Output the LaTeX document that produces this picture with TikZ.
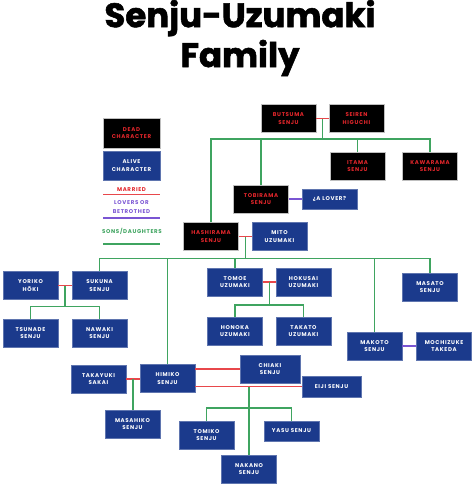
\documentclass[tikz,border=0pt]{standalone}
\usepackage{fontspec}
\setmainfont{Poppins}
\newfontfamily\titlefont{Poppins}[BoldFeatures={FakeBold=1.6}]
\newfontfamily\boxfont[LetterSpace=12]{Poppins}
\usetikzlibrary{calc}

\definecolor{navy}{HTML}{1B3A8C}
\definecolor{deadred}{HTML}{E3262B}
\definecolor{marryred}{HTML}{E8474B}
\definecolor{lovepurple}{HTML}{7A55D3}
\definecolor{kidgreen}{HTML}{3FA460}

\tikzset{
    person/.style={draw=black!25,line width=0.4pt,minimum width=1.66cm,
        minimum height=0.85cm,inner sep=1pt,align=center,
        font=\boxfont\bfseries\fontsize{4.7}{6.3}\selectfont},
    dead/.style={person,fill=black,text=deadred},
    alive/.style={person,fill=navy,text=white,draw=navy!70!white},
    married/.style={draw=marryred,line width=1.1pt},
    lovers/.style={draw=lovepurple,line width=1.1pt},
    child/.style={draw=kidgreen,line width=1.1pt},
}

\begin{document}
\begin{tikzpicture}[x=0.03cm,y=-0.03cm]
    \useasboundingbox (0,0) rectangle (474,498);

    % title
    \node[font=\titlefont\bfseries\fontsize{29}{34}\selectfont,align=center]
        (title) at (240,38) {Senju-Uzumaki\\Family};

    % legend
    \node[dead,minimum width=1.71cm,minimum height=0.9cm]
        (key-dead) at (131.5,133) {DEAD\\CHARACTER};
    \node[alive,minimum width=1.71cm,minimum height=0.87cm]
        (key-alive) at (131.5,165.5) {ALIVE\\CHARACTER};
    \node[font=\boxfont\bfseries\fontsize{4.7}{6.3}\selectfont,text=deadred]
        (key-married) at (131.5,190) {MARRIED};
    \draw[married] (103,194.5) -- (160,194.5);
    \node[font=\boxfont\bfseries\fontsize{4.7}{7.2}\selectfont,text=lovepurple,align=center]
        (key-lovers) at (131.5,207) {LOVERS OR\\BETROTHED};
    \draw[lovers] (103,218) -- (160,218);
    \node[font=\boxfont\bfseries\fontsize{4.7}{6.3}\selectfont,text=kidgreen]
        (key-kids) at (132,231) {SONS/DAUGHTERS};
    \draw[child] (103,244) -- (160,244);

    % first generation
    \node[dead] (butsuma) at (288.5,118.5) {BUTSUMA\\SENJU};
    \node[dead] (seiren) at (356.5,118.5) {SEIREN\\HIGUCHI};
    \node[dead] (itama) at (357.5,166) {ITAMA\\SENJU};
    \node[dead] (kawarama) at (430,166) {KAWARAMA\\SENJU};
    \node[dead] (tobirama) at (261,199) {TOBIRAMA\\SENJU};
    \node[alive,minimum height=0.6cm] (lover) at (329.5,199) {¿A LOVER?};
    \node[dead] (hashirama) at (211,236.5) {HASHIRAMA\\SENJU};
    \node[alive] (mito) at (279.5,236.5) {MITO\\UZUMAKI};

    % second generation
    \node[alive] (yoriko) at (30.5,285.5) {YORIKO\\HŌKI};
    \node[alive] (sukuna) at (99.5,285.5) {SUKUNA\\SENJU};
    \node[alive] (tsunade) at (30.5,333) {TSUNADE\\SENJU};
    \node[alive] (nawaki) at (99.5,333) {NAWAKI\\SENJU};
    \node[alive] (tomoe) at (235,282) {TOMOE\\UZUMAKI};
    \node[alive] (hokusai) at (303.5,282) {HOKUSAI\\UZUMAKI};
    \node[alive] (honoka) at (235,331) {HONOKA\\UZUMAKI};
    \node[alive] (takato) at (303.5,331) {TAKATO\\UZUMAKI};
    \node[alive] (masato) at (430,287) {MASATO\\SENJU};
    \node[alive] (makoto) at (374.5,346) {MAKOTO\\SENJU};
    \node[alive] (mochizuke) at (444,346) {MOCHIZUKE\\TAKEDA};

    % third generation
    \node[alive] (takayuki) at (98.5,379) {TAKAYUKI\\SAKAI};
    \node[alive] (himiko) at (167.5,378.5) {HIMIKO\\SENJU};
    \node[alive] (masahiko) at (132.5,424) {MASAHIKO\\SENJU};
    \node[alive,minimum width=1.8cm] (chiaki) at (270,369) {CHIAKI\\SENJU};
    \node[alive,minimum width=1.77cm,minimum height=0.63cm]
        (eiji) at (331.5,386.5) {EIJI SENJU};
    \node[alive] (tomiko) at (206.5,435) {TOMIKO\\SENJU};
    \node[alive,minimum height=0.6cm] (yasu) at (291.5,431) {YASU SENJU};
    \node[alive] (nakano) at (249,469) {NAKANO\\SENJU};

    % couples
    \draw[married] (butsuma.east) -- (seiren.west);
    \coordinate (m-butsuma) at ($(butsuma.east)!0.5!(seiren.west)$);
    \draw[lovers] (tobirama.east) -- (lover.west);
    \draw[married] (hashirama.east) -- (mito.west);
    \coordinate (m-hashirama) at ($(hashirama.east)!0.5!(mito.west)$);
    \draw[married] (yoriko.east) -- (sukuna.west);
    \coordinate (m-sukuna) at ($(yoriko.east)!0.5!(sukuna.west)$);
    \draw[married] (tomoe.east) -- (hokusai.west);
    \coordinate (m-tomoe) at ($(tomoe.east)!0.5!(hokusai.west)$);
    \draw[lovers] (makoto.east) -- (mochizuke.west);
    \draw[married] (takayuki.east) -- (himiko.west |- takayuki.east);
    \coordinate (m-himiko) at ($(takayuki.east)!0.5!(himiko.west |- takayuki.east)$);
    \draw[married] (chiaki.west -| himiko.east) -- (chiaki.west);
    \draw[married] (himiko.east |- eiji.west) -- (eiji.west);
    \coordinate (m-chiaki) at (nakano.north |- eiji.west);

    % children
    \coordinate (bus-a) at (0,139);
    \coordinate (bus-b) at (0,258.5);
    \draw[child] (m-butsuma) -- (m-butsuma |- bus-a);
    \draw[child] (hashirama.north) -- (hashirama.north |- bus-a)
        -- (kawarama.north |- bus-a) -- (kawarama.north);
    \draw[child] (tobirama.north) -- (tobirama.north |- bus-a);
    \draw[child] (itama.north) -- (itama.north |- bus-a);

    \draw[child] (m-hashirama) -- (m-hashirama |- bus-b);
    \draw[child] (sukuna.north) -- (sukuna.north |- bus-b)
        -- (masato.north |- bus-b) -- (masato.north);
    \draw[child] (himiko.north) -- (himiko.north |- bus-b);
    \draw[child] (tomoe.north) -- (tomoe.north |- bus-b);
    \draw[child] (makoto.north) -- (makoto.north |- bus-b);

    \draw[child] (m-sukuna) -- ++(0,21) coordinate (bus-c);
    \draw[child] (tsunade.north) |- (bus-c) -| (nawaki.north);
    \draw[child] (m-tomoe) -- ++(0,23) coordinate (bus-d);
    \draw[child] (honoka.north) |- (bus-d) -| (takato.north);

    \draw[child] (m-himiko) -- (m-himiko |- masahiko.north);
    \draw[child] (m-chiaki) -- (nakano.north);
    \coordinate (bus-e) at (0,408);
    \draw[child] (tomiko.north) -- (tomiko.north |- bus-e)
        -- (yasu.north |- bus-e) -- (yasu.north);
\end{tikzpicture}
\end{document}
